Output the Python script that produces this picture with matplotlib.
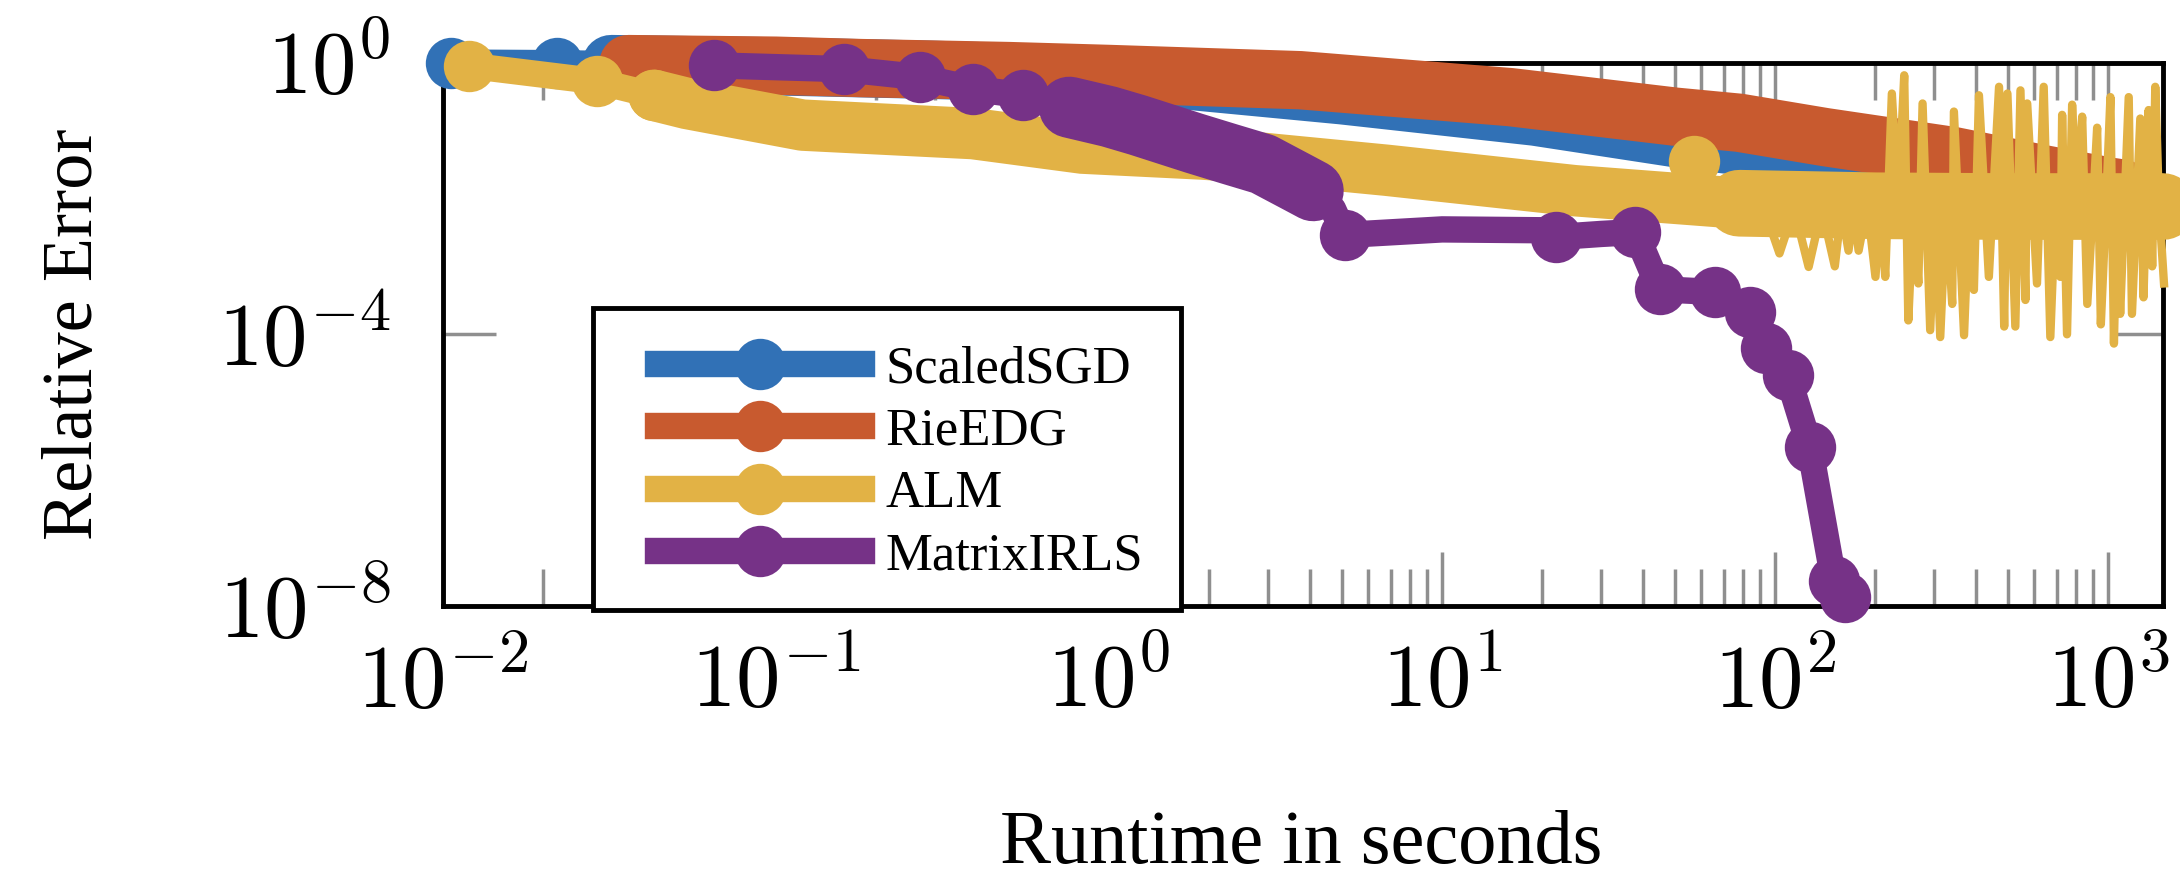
import matplotlib
matplotlib.use("Agg")
import matplotlib.pyplot as plt
from matplotlib.lines import Line2D
from matplotlib.patches import Rectangle
from matplotlib.legend_handler import HandlerLine2D
from matplotlib.ticker import LogLocator, NullLocator

plt.rcParams['font.family'] = ['Liberation Serif', 'DejaVu Serif']
plt.rcParams['mathtext.fontset'] = 'cm'

labels = ['ScaledSGD', 'RieEDG', 'ALM', 'MatrixIRLS']
colors = ['#3171b6', '#c85a2f', '#e2b245', '#763287']

# ScaledSGD
sgd_t = [0.0106, 0.022, 0.032, 0.1, 0.3, 1.0, 1.55, 5.0, 19.0, 53.0, 78.0, 150.0, 220.0]
sgd_err = [1.0, 0.98, 0.95, 0.88, 0.78, 0.66, 0.57, 0.33, 0.16, 0.074, 0.059, 0.05, 0.045]
sgd_mk_t = [0.0106, 0.022, 0.032]
sgd_mk_err = [1.0, 0.98, 0.95]

# RieEDG
rie_t = [0.036, 0.1, 0.18, 0.5, 1.0, 3.75, 16.0, 50.0, 78.0, 141.0, 343.0, 630.0, 1000.0, 1100.0]
rie_err = [0.95, 0.9, 0.83, 0.75, 0.68, 0.55, 0.31, 0.16, 0.13, 0.08, 0.042, 0.023, 0.015, 0.014]
rie_mk_t = [0.036]
rie_mk_err = [0.95]

# ALM
alm_t = [0.012, 0.029, 0.043, 0.054, 0.12, 0.39, 0.83, 1.9, 2.9, 6.8, 25.0, 78.0, 200.0, 500.0,
         1000.0, 1460.0]
alm_err = [0.9, 0.53, 0.33, 0.25, 0.12, 0.09, 0.055, 0.045, 0.039, 0.026, 0.013, 0.0085, 0.0078,
           0.0076, 0.0076, 0.0076]
alm_mk_t = [0.012, 0.029, 0.043, 57.0]
alm_mk_err = [0.9, 0.53, 0.33, 0.036]
# ALM oscillating tail
alm_osc_t = [91, 103, 114, 126, 138, 151, 158, 166, 172, 178, 189, 200, 207, 214, 224, 234, 244, 251,
             260, 269, 277, 292, 302, 313, 326, 340, 344, 369, 382, 395, 409, 438, 470, 487, 498, 526,
             545, 564, 571, 611, 640, 670, 694, 718, 727, 752, 779, 805, 835, 865, 900, 926, 950, 985,
             1015, 1040, 1062, 1086, 1152, 1178, 1248, 1276, 1322, 1355, 1384, 1420, 1470]
alm_osc_err = [0.009, 1.55e-3, 0.007, 9.8e-4, 0.007, 1e-3, 0.007, 1.7e-3, 0.007, 1.7e-3, 0.008, 7e-4,
               0.008, 7e-4, 0.35, 0.008, 0.65, 1.6e-4, 0.008, 5.6e-4, 0.25, 1.15e-4, 0.008, 9.1e-5,
               0.008, 2.8e-4, 0.19, 9.7e-5, 0.008, 4.5e-4, 0.33, 7e-4, 0.44, 1.3e-4, 0.35, 1.3e-4,
               0.39, 3.2e-4, 0.25, 5.6e-4, 0.44, 9.1e-5, 0.008, 7e-4, 0.17, 1e-4, 0.24, 0.008, 0.16,
               2.8e-4, 0.008, 0.11, 1.4e-4, 0.008, 0.31, 7.3e-5, 0.008, 2e-4, 0.31, 2e-4, 0.15, 3.5e-4,
               0.2, 1e-3, 0.44, 0.008, 5.6e-4]

# MatrixIRLS
irls_t = [0.065, 0.16, 0.27, 0.39, 0.55, 0.76, 1.0, 1.22, 1.8, 2.3, 2.9, 3.7, 4.1, 4.7, 5.1, 10.0, 20.0,
          22.0, 30.0, 38.0, 45.0, 66.0, 84.0, 94.0, 109.0, 127.0, 150.0, 162.0]
irls_err = [0.91, 0.8, 0.61, 0.41, 0.33, 0.22, 0.16, 0.12, 0.065, 0.045, 0.032, 0.017, 0.013, 0.007, 0.0029,
            0.0035, 0.0034, 0.0027, 0.003, 0.0032, 4.6e-4, 4.2e-4, 2.1e-4, 6.3e-5, 2.5e-5, 2.2e-6, 2.3e-8,
            1.35e-8]
irls_mk_t = [0.065, 0.16, 0.27, 0.39, 0.55, 0.76, 5.1, 22.0, 38.0, 45.0, 66.0, 84.0, 94.0, 109.0, 127.0, 150.0, 162.0]
irls_mk_err = [0.91, 0.8, 0.61, 0.41, 0.33, 0.22, 0.0029, 0.0027, 0.0032, 4.6e-4, 4.2e-4, 2.1e-4, 6.3e-5,
               2.5e-5, 2.2e-6, 2.3e-8, 1.35e-8]

x_ticks = [1e-2, 1e-1, 1e0, 1e1, 1e2, 1e3]
x_tick_labels = [r'$10^{-2}$', r'$10^{-1}$', r'$10^{0}$', r'$10^{1}$', r'$10^{2}$', r'$10^{3}$']
y_ticks = [1e-8, 1e-4, 1e0]
y_tick_labels = [r'$10^{-8}$', r'$10^{-4}$', r'$10^{0}$']

LW = 19      # line width (pt)
BAND = 42    # where markers merge into a band
MS = 37      # marker size

fig = plt.figure(figsize=(21.8, 8.75), dpi=100)
ax = fig.add_axes([0.2032, 0.3074, 0.789, 0.6211])
ax.set_xscale('log')
ax.set_yscale('log')


def draw(t, err, mk_t, mk_err, band, color, z, band_w=BAND):
    ax.plot(t, err, color=color, lw=LW, solid_capstyle='butt', solid_joinstyle='round',
            clip_on=False, zorder=z)
    ax.plot(t[band], err[band], color=color, lw=band_w, solid_capstyle='round',
            solid_joinstyle='round', clip_on=False, zorder=z)
    ax.plot(mk_t, mk_err, ls='none', marker='o', ms=MS, mew=0, color=color,
            clip_on=False, zorder=z)


draw(sgd_t, sgd_err, sgd_mk_t, sgd_mk_err, slice(2, None), colors[0], 3)
draw(rie_t, rie_err, rie_mk_t, rie_mk_err, slice(0, None), colors[1], 4)
draw(alm_t, alm_err, alm_mk_t, alm_mk_err, slice(2, None), colors[2], 5, band_w=37)
ax.plot(alm_t[11:], alm_err[11:], color=colors[2], lw=48, solid_capstyle='round',
        clip_on=False, zorder=5)
ax.plot(alm_osc_t, alm_osc_err, color=colors[2], lw=6, solid_joinstyle='round',
        clip_on=False, zorder=5)
draw(irls_t, irls_err, irls_mk_t, irls_mk_err, slice(5, 13), colors[3], 6, band_w=44)

ax.set_xlim(0.01, 1460)
ax.set_ylim(1e-8, 1)
ax.set_xticks(x_ticks)
ax.set_xticklabels(x_tick_labels)
ax.xaxis.set_minor_locator(LogLocator(base=10, subs=range(2, 10), numticks=20))
ax.set_yticks(y_ticks)
ax.set_yticklabels(y_tick_labels)
ax.yaxis.set_minor_locator(NullLocator())

ax.tick_params(which='both', direction='in', top=True, right=True, color='#8f8f8f', width=2.5,
               labelsize=64)
ax.tick_params(axis='x', which='major', length=39, pad=27)
ax.tick_params(axis='x', which='minor', length=26.5)
ax.tick_params(axis='y', which='major', length=38, pad=38)
for s in ax.spines.values():
    s.set_linewidth(3.5)

fig.text(0.0344, 0.618, 'Relative Error', rotation=90, ha='center', va='center', fontsize=52)
fig.text(0.5968, 0.035, 'Runtime in seconds', ha='center', va='center', fontsize=55)

# legend box drawn separately so the rows can sit centred in it
box = Rectangle((0.087, -0.007), 0.342, 0.555, transform=ax.transAxes, facecolor='white',
                edgecolor='black', lw=3.5, clip_on=False, zorder=9)
ax.add_patch(box)
handles = [Line2D([], [], color=c, lw=LW, marker='o', ms=MS, mew=0) for c in colors]
leg = ax.legend(handles, labels, loc='lower left', bbox_to_anchor=(0.087, -0.036), borderaxespad=0,
                fontsize=38, handlelength=4.25, handletextpad=0.44, borderpad=0.85, labelspacing=0.275,
                frameon=False, handler_map={Line2D: HandlerLine2D(xpad=0.38)})
leg.set_zorder(10)

fig.savefig('out.png', dpi=100)
